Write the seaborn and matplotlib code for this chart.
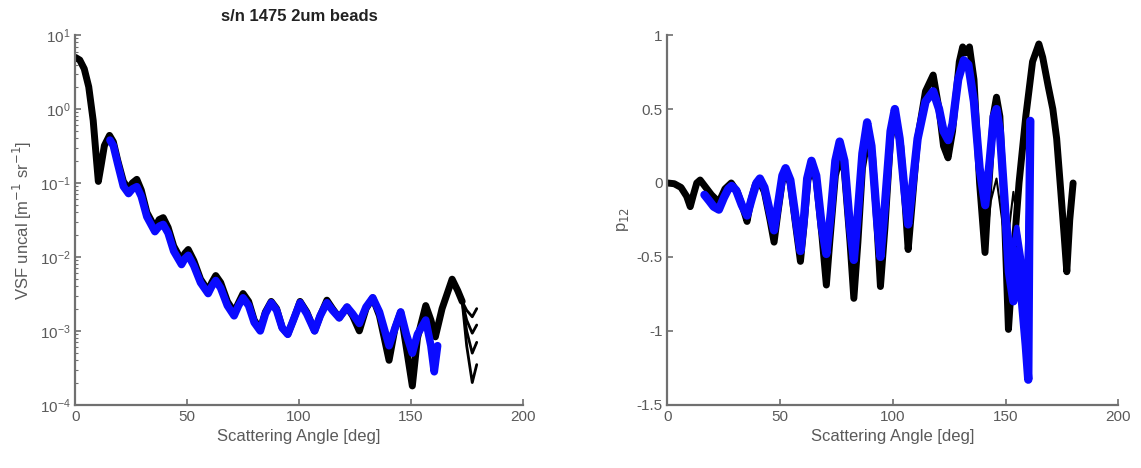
import numpy as np
import pandas as pd
import seaborn as sns
import matplotlib.pyplot as plt

# ---- left panel: VSF (log scale) ----
vsf_black_angle = [0, 2, 4, 6, 8, 9.5, 10.3, 11.5, 13, 15.3, 17, 19, 21.5, 23.8, 25.5, 27.5,
                   29.5, 32, 35.6, 37.5, 39.3, 41.5, 44, 47.5, 49, 50.5, 53, 56, 59.4, 61,
                   62.8, 65, 68, 71, 73, 75, 77.5, 80, 82.7, 85, 87.6, 90, 92.5, 95, 97.5,
                   100.5, 103.5, 107, 109.5, 112.5, 115, 118, 121.5, 124, 127, 130, 133, 136,
                   140.3, 143, 145.5, 148, 150.7, 153, 156.7, 159, 161, 164, 168.5, 171, 173]
vsf_black = [5.0, 4.6, 3.5, 2.0, 0.7, 0.2, 0.105, 0.17, 0.32, 0.44, 0.36, 0.2, 0.105, 0.083,
             0.1, 0.112, 0.08, 0.04, 0.025, 0.032, 0.034, 0.025, 0.014, 0.009, 0.0112, 0.0126,
             0.0089, 0.005, 0.0035, 0.0045, 0.0056, 0.0045, 0.0025, 0.0018, 0.0024, 0.0032,
             0.0025, 0.0014, 0.00105, 0.0018, 0.0025, 0.002, 0.0011, 0.0009, 0.0014, 0.0025,
             0.0018, 0.001, 0.0016, 0.0026, 0.002, 0.0015, 0.0021, 0.0016, 0.001, 0.002,
             0.0028, 0.0016, 0.0004, 0.0011, 0.0018, 0.0006, 0.00018, 0.0008, 0.0022, 0.0014,
             0.00083, 0.002, 0.005, 0.0035, 0.0025]
# the black curves split into separate ends past ~173 deg
tail_angle = [173, 175, 177.5, 179.5]
tail_1 = [0.0025, 0.0019, 0.00155, 0.002]
tail_2 = [0.0025, 0.0014, 0.00093, 0.0012]
tail_3 = [0.0025, 0.001, 0.0005, 0.0007]
tail_4 = [0.0025, 0.00063, 0.0002, 0.00035]

vsf_blue_angle = [15.5, 17, 19, 21.5, 23.8, 25.5, 27.5, 29.5, 32, 35.6, 37.5, 39.3, 41.5, 44,
                  47.5, 49, 50.5, 53, 56, 59.4, 61, 62.8, 65, 68, 71, 73, 75, 77.5, 80, 82.7,
                  85, 87.6, 90, 92.5, 95, 97.5, 100.5, 103.5, 107, 109.5, 112.5, 115, 118,
                  121.5, 124, 127, 130, 133, 136, 140.3, 143, 145.5, 148, 150.7, 153, 156.7,
                  159, 160.5, 162]
vsf_blue = [0.38, 0.32, 0.18, 0.09, 0.072, 0.083, 0.089, 0.066, 0.035, 0.022, 0.026, 0.0275,
            0.021, 0.012, 0.0079, 0.0095, 0.0105, 0.0076, 0.0045, 0.0032, 0.004, 0.0048,
            0.0038, 0.0022, 0.0016, 0.0022, 0.0028, 0.0022, 0.0013, 0.001, 0.0017, 0.0024,
            0.0019, 0.0011, 0.0009, 0.0014, 0.0024, 0.0017, 0.001, 0.0016, 0.0024, 0.0019,
            0.0015, 0.0021, 0.0017, 0.00126, 0.0021, 0.0028, 0.0018, 0.00063, 0.0011, 0.0018,
            0.0009, 0.0005, 0.0009, 0.0014, 0.00063, 0.00028, 0.00063]

# ---- right panel: p12 ----
p12_black_angle = [0, 3, 6, 8.5, 10.1, 11.5, 13, 14.5, 16.5, 19.5, 22.8, 25.5, 28.3, 31, 33.5,
                   35.3, 37, 39, 40.9, 43, 45.5, 47.3, 49, 51, 52.6, 54.5, 57, 59, 60.5, 62.3,
                   64.1, 66, 68.5, 70.5, 72, 74.5, 76.6, 78.5, 81, 82.7, 84.5, 86.5, 88.8, 91,
                   93, 94.5, 96.5, 99, 101, 103.5, 105.5, 106.8, 108.5, 111, 114.5, 117.9,
                   120.5, 122.5, 124.5, 126.5, 129.5, 131, 132.5, 134, 136, 138.5, 140.9, 142.5,
                   144.5, 146, 147.5, 149.5, 151.3, 153, 156, 159, 162, 164.8, 166.5, 169, 171,
                   172.7, 174.5, 176, 177.2, 178.5, 180]
p12_black = [0.0, -0.005, -0.03, -0.09, -0.16, -0.08, 0.0, 0.02, -0.02, -0.08, -0.13, -0.04,
             0.0, -0.06, -0.17, -0.26, -0.12, -0.01, 0.01, -0.06, -0.25, -0.4, -0.2, 0.02, 0.06,
             0.0, -0.3, -0.53, -0.3, 0.02, 0.1, 0.02, -0.35, -0.69, -0.4, 0.05, 0.18, 0.08,
             -0.4, -0.78, -0.4, 0.1, 0.3, 0.18, -0.3, -0.7, -0.3, 0.3, 0.45, 0.25, -0.15, -0.45,
             -0.15, 0.3, 0.62, 0.73, 0.5, 0.25, 0.17, 0.35, 0.82, 0.92, 0.88, 0.92, 0.7, 0.0,
             -0.47, -0.05, 0.45, 0.58, 0.45, -0.2, -0.99, -0.6, 0.0, 0.45, 0.82, 0.94, 0.85,
             0.65, 0.5, 0.3, -0.05, -0.35, -0.6, -0.25, 0.0]
# one black curve with lower peaks near 145-158 deg
p12_black2_angle = [138.5, 140.9, 143.5, 146, 148.5, 150.5, 153.5, 156, 158]
p12_black2 = [0.0, -0.47, -0.12, 0.03, -0.25, -0.45, -0.06, -0.35, -0.6]

p12_blue_angle = [16.4, 18.5, 20.5, 22.8, 25, 27, 28.5, 30.5, 33, 35.3, 37.5, 39.5, 41, 43,
                  45.5, 47.3, 49, 51, 52.4, 54.5, 57, 59, 60.5, 62, 63.9, 66, 68.5, 70.5, 72.5,
                  74.5, 76.4, 78.5, 81, 82.7, 84.5, 86.5, 88.6, 90.5, 93, 94.5, 96.5, 99, 100.9,
                  103, 105.5, 106.8, 108.5, 111, 114.5, 117.9, 120.5, 122.5, 124.6, 126.5, 129,
                  131.5, 133.5, 136, 138.5, 141, 143, 144.8, 146, 147.5, 149.5, 151.5, 153.5,
                  155, 157, 159, 160.1, 160.5, 161]
p12_blue = [-0.08, -0.12, -0.16, -0.18, -0.1, -0.04, -0.02, -0.05, -0.15, -0.22, -0.1, 0.0,
            0.03, -0.03, -0.2, -0.32, -0.15, 0.05, 0.1, 0.02, -0.25, -0.46, -0.25, 0.03, 0.15,
            0.05, -0.3, -0.48, -0.2, 0.15, 0.28, 0.15, -0.3, -0.52, -0.2, 0.2, 0.41, 0.25,
            -0.25, -0.5, -0.15, 0.35, 0.5, 0.3, -0.1, -0.28, -0.05, 0.3, 0.55, 0.62, 0.5, 0.35,
            0.29, 0.4, 0.7, 0.83, 0.8, 0.55, 0.1, -0.15, 0.15, 0.45, 0.5, 0.35, -0.1, -0.6,
            -0.8, -0.6, -0.75, -1.1, -1.33, -0.4, 0.42]
# extra blue curves filling the noisy patch at 150-161 deg
p12_blue2_angle = [149.5, 151.5, 153, 155, 157, 159, 160.3, 160.8]
p12_blue2 = [-0.1, -0.35, -0.5, -0.3, -0.5, -0.8, -0.2, 0.3]
p12_blue3_angle = [148.5, 150.5, 152.5, 154.5, 156.5, 158.5, 159.8, 160.6]
p12_blue3 = [0.1, -0.45, -0.7, -0.45, -0.65, -0.95, -0.7, 0.1]

sns.set_theme(style="ticks")
plt.rcParams['font.family'] = ['Liberation Sans', 'DejaVu Sans']
grey = '#707070'
txt = '#5a5a5a'
blue = '#0a0aff'

fig = plt.figure(figsize=(11.41, 4.68), dpi=100)
ax1 = fig.add_axes([0.066, 0.135, 0.392, 0.79])
ax2 = fig.add_axes([0.585, 0.135, 0.395, 0.79])

line_kw = dict(estimator=None, sort=False, solid_joinstyle='round', solid_capstyle='round')

# left
sns.lineplot(x=vsf_black_angle, y=vsf_black, ax=ax1, color='black', linewidth=5, **line_kw)
for t in [tail_1, tail_2, tail_3, tail_4]:
    sns.lineplot(x=tail_angle, y=t, ax=ax1, color='black', linewidth=2, **line_kw)
sns.lineplot(x=vsf_blue_angle, y=vsf_blue, ax=ax1, color=blue, linewidth=5.5, **line_kw)
ax1.set_yscale('log')
ax1.set_xlim(0, 200)
ax1.set_ylim(1e-4, 10)
ax1.set_xticks([0, 50, 100, 150, 200])
ax1.set_xlabel('Scattering Angle [deg]', fontsize=12, color=txt)
ax1.set_ylabel('VSF uncal [m$^{-1}$ sr$^{-1}$]', fontsize=12, color=txt)
ax1.set_title('s/n 1475 2um beads', fontsize=12, fontweight='bold', color='#222222', pad=10)

# right
sns.lineplot(x=p12_black_angle, y=p12_black, ax=ax2, color='black', linewidth=5, **line_kw)
sns.lineplot(x=p12_black2_angle, y=p12_black2, ax=ax2, color='black', linewidth=1.5, **line_kw)
sns.lineplot(x=p12_blue_angle, y=p12_blue, ax=ax2, color=blue, linewidth=6, **line_kw)
sns.lineplot(x=p12_blue2_angle, y=p12_blue2, ax=ax2, color=blue, linewidth=4, **line_kw)
sns.lineplot(x=p12_blue3_angle, y=p12_blue3, ax=ax2, color=blue, linewidth=4, **line_kw)
ax2.set_xlim(0, 200)
ax2.set_ylim(-1.5, 1)
ax2.set_xticks([0, 50, 100, 150, 200])
ax2.set_yticks([-1.5, -1, -0.5, 0, 0.5, 1])
ax2.set_yticklabels(['-1.5', '-1', '-0.5', '0', '0.5', '1'])
ax2.set_xlabel('Scattering Angle [deg]', fontsize=12, color=txt)
ax2.set_ylabel('p$_{12}$', fontsize=12, color=txt)

for ax in [ax1, ax2]:
    sns.despine(ax=ax)
    for s in ['left', 'bottom']:
        ax.spines[s].set_color(grey)
        ax.spines[s].set_linewidth(1.6)
    ax.tick_params(which='both', direction='in', colors=grey, labelcolor=txt, labelsize=11)
    ax.tick_params(which='major', length=4, width=1.2)
    ax.tick_params(which='minor', length=2, width=0.8)

fig.savefig('out.png', dpi=100)
